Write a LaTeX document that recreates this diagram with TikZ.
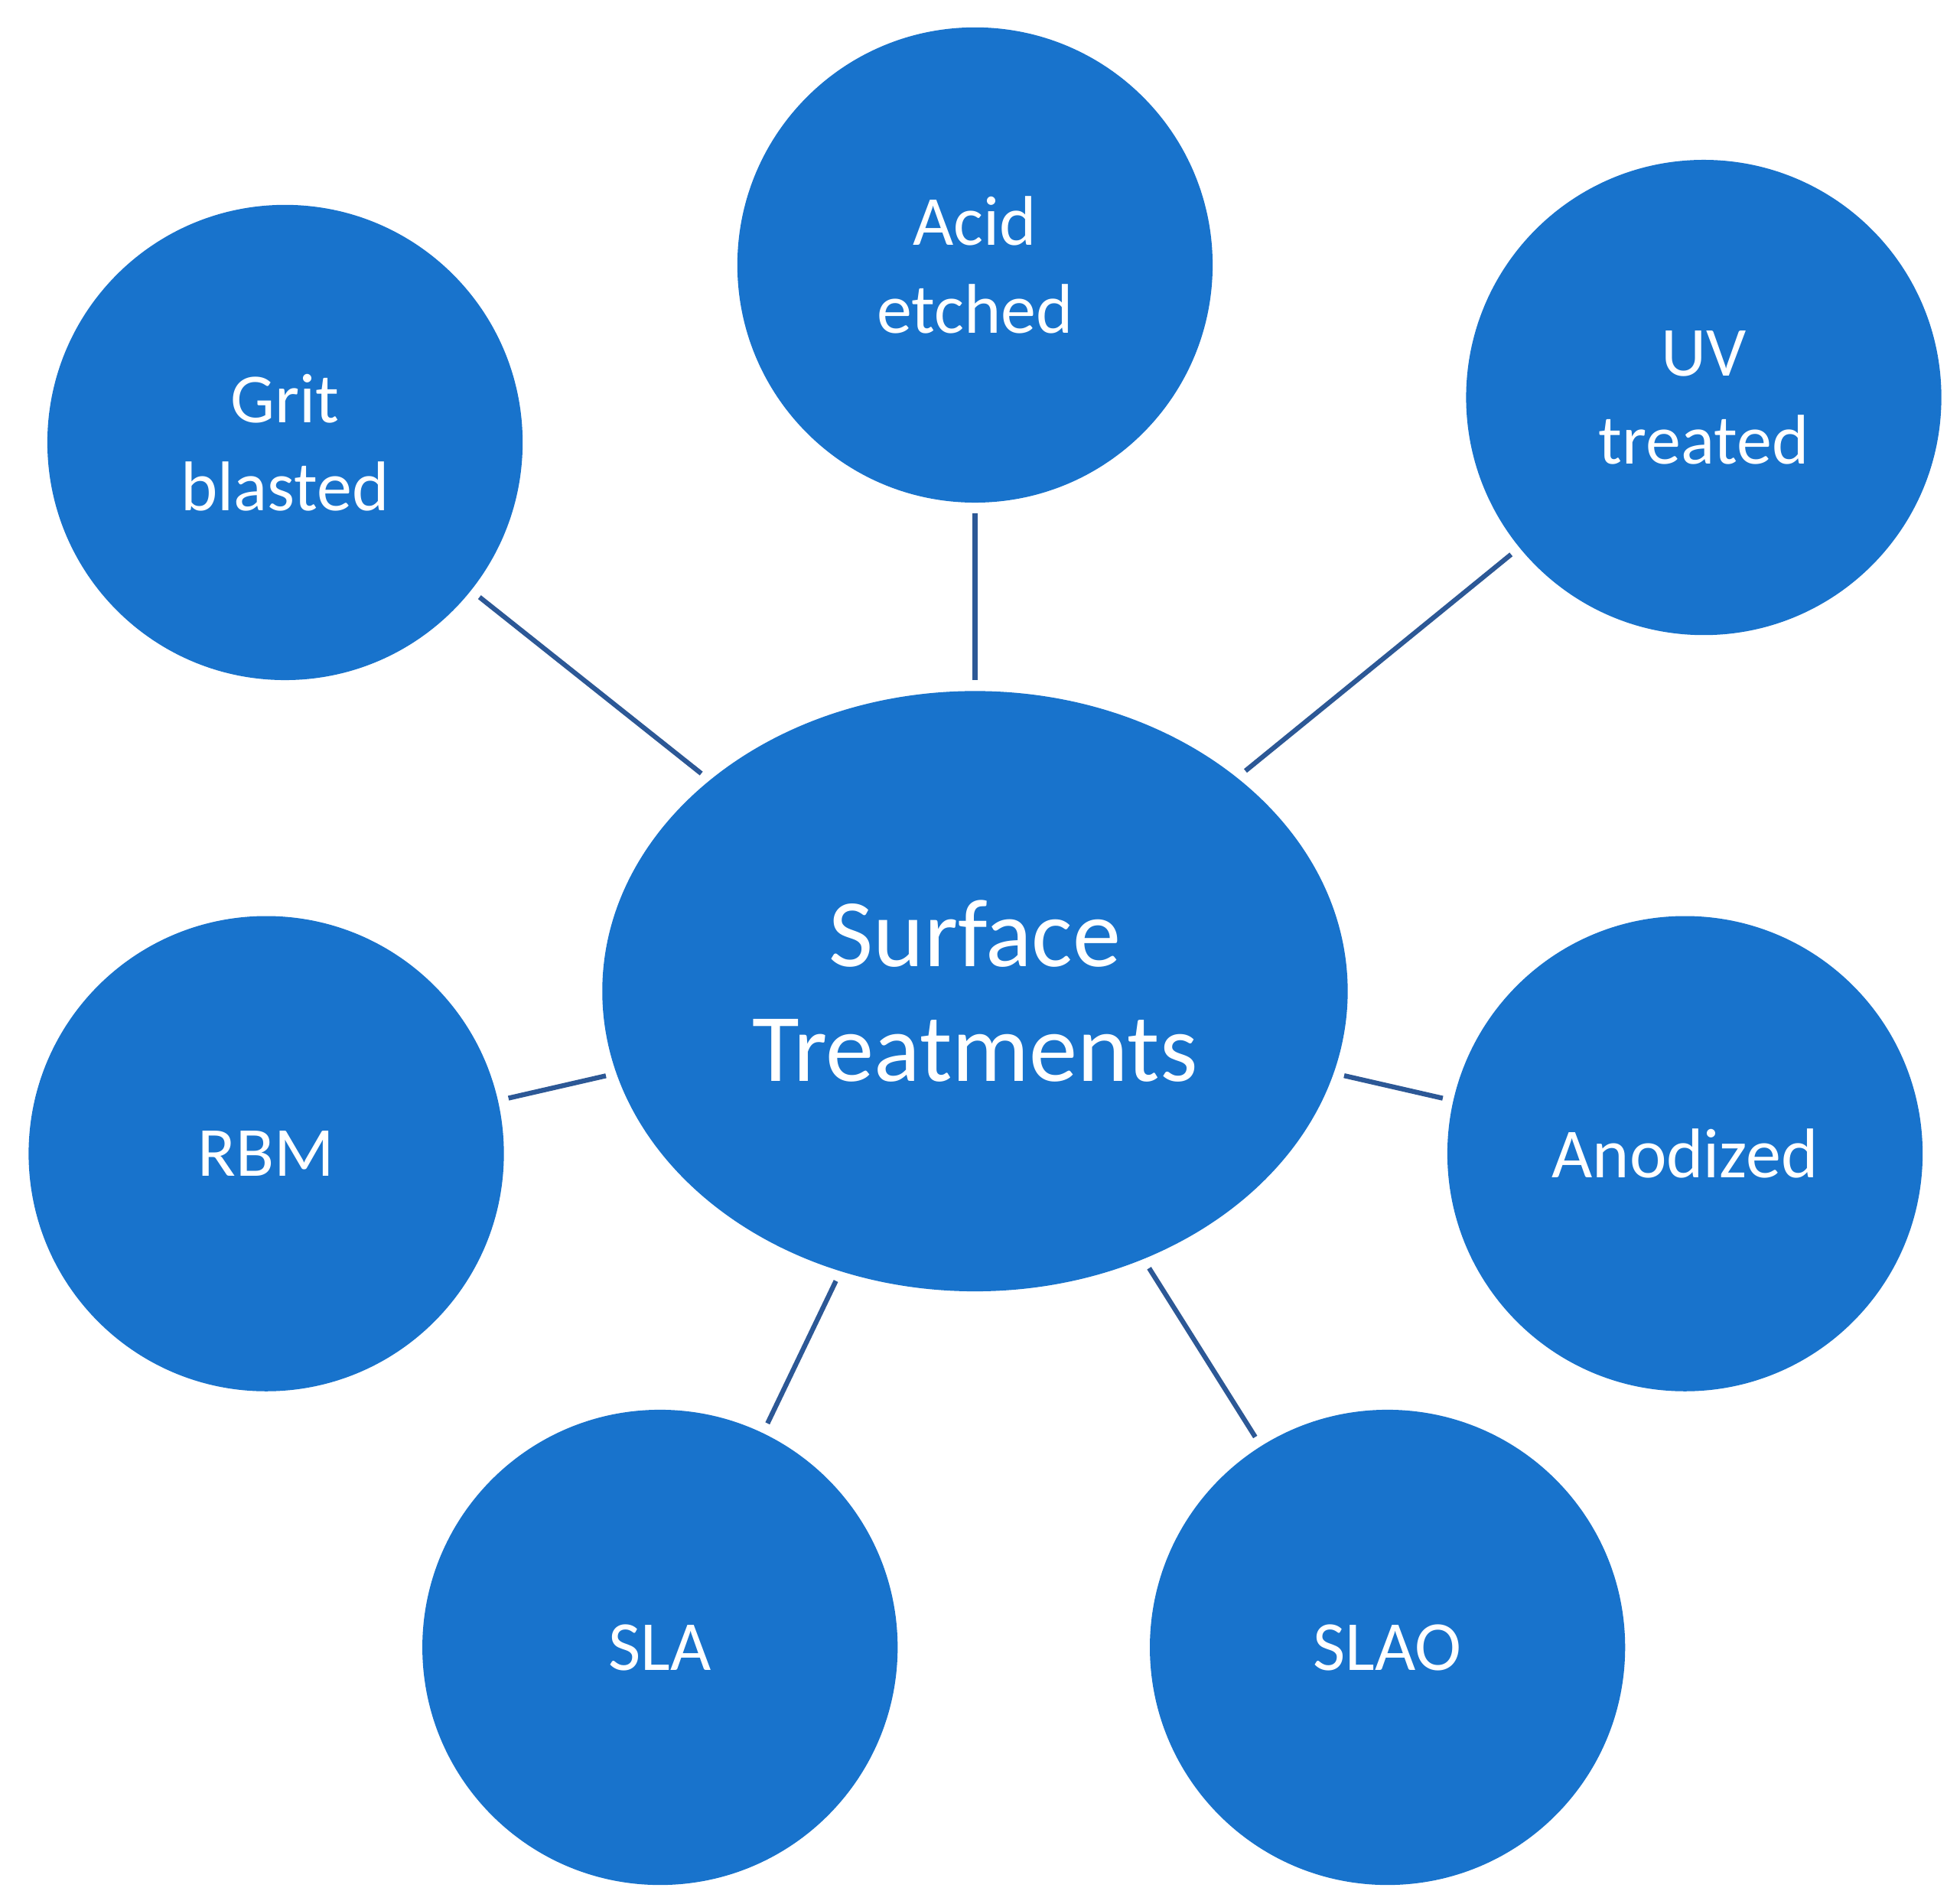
\documentclass[tikz,border=0pt]{standalone}
\usepackage{fontspec}
\setmainfont{Carlito}
\usetikzlibrary{shapes.geometric}
\definecolor{fillb}{HTML}{1873CC}
\definecolor{lineb}{HTML}{2C5896}
\begin{document}
\begin{tikzpicture}[x=0.01cm,y=-0.01cm,
  sat/.style={circle,fill=fillb,minimum size=3.8cm,inner sep=0pt,text=white,align=center,font=\fontsize{16}{20}\selectfont},
  hub/.style={ellipse,fill=fillb,minimum width=5.96cm,minimum height=4.8cm,inner sep=0pt,text=white,align=center,font=\fontsize{22}{26}\selectfont},
  con/.style={draw=lineb,line width=1.1pt,shorten <=0.08cm,shorten >=0.08cm}]
\useasboundingbox (0,0) rectangle (1568,1523);
\node[hub] (c) at (780,793) {Surface\\Treatments};
\node[sat] (acid) at (780,212) {Acid\\etched};
\node[sat] (grit) at (228,354) {Grit\\blasted};
\node[sat] (uv) at (1363,318) {UV\\treated};
\node[sat] (rbm) at (213,923) {RBM};
\node[sat] (ano) at (1348,923) {Anodized};
\node[sat] (sla) at (528,1318) {SLA};
\node[sat] (slao) at (1110,1318) {SLAO};
\foreach \n in {acid,grit,uv,rbm,ano,sla,slao} \draw[con] (c) -- (\n);
\end{tikzpicture}
\end{document}
